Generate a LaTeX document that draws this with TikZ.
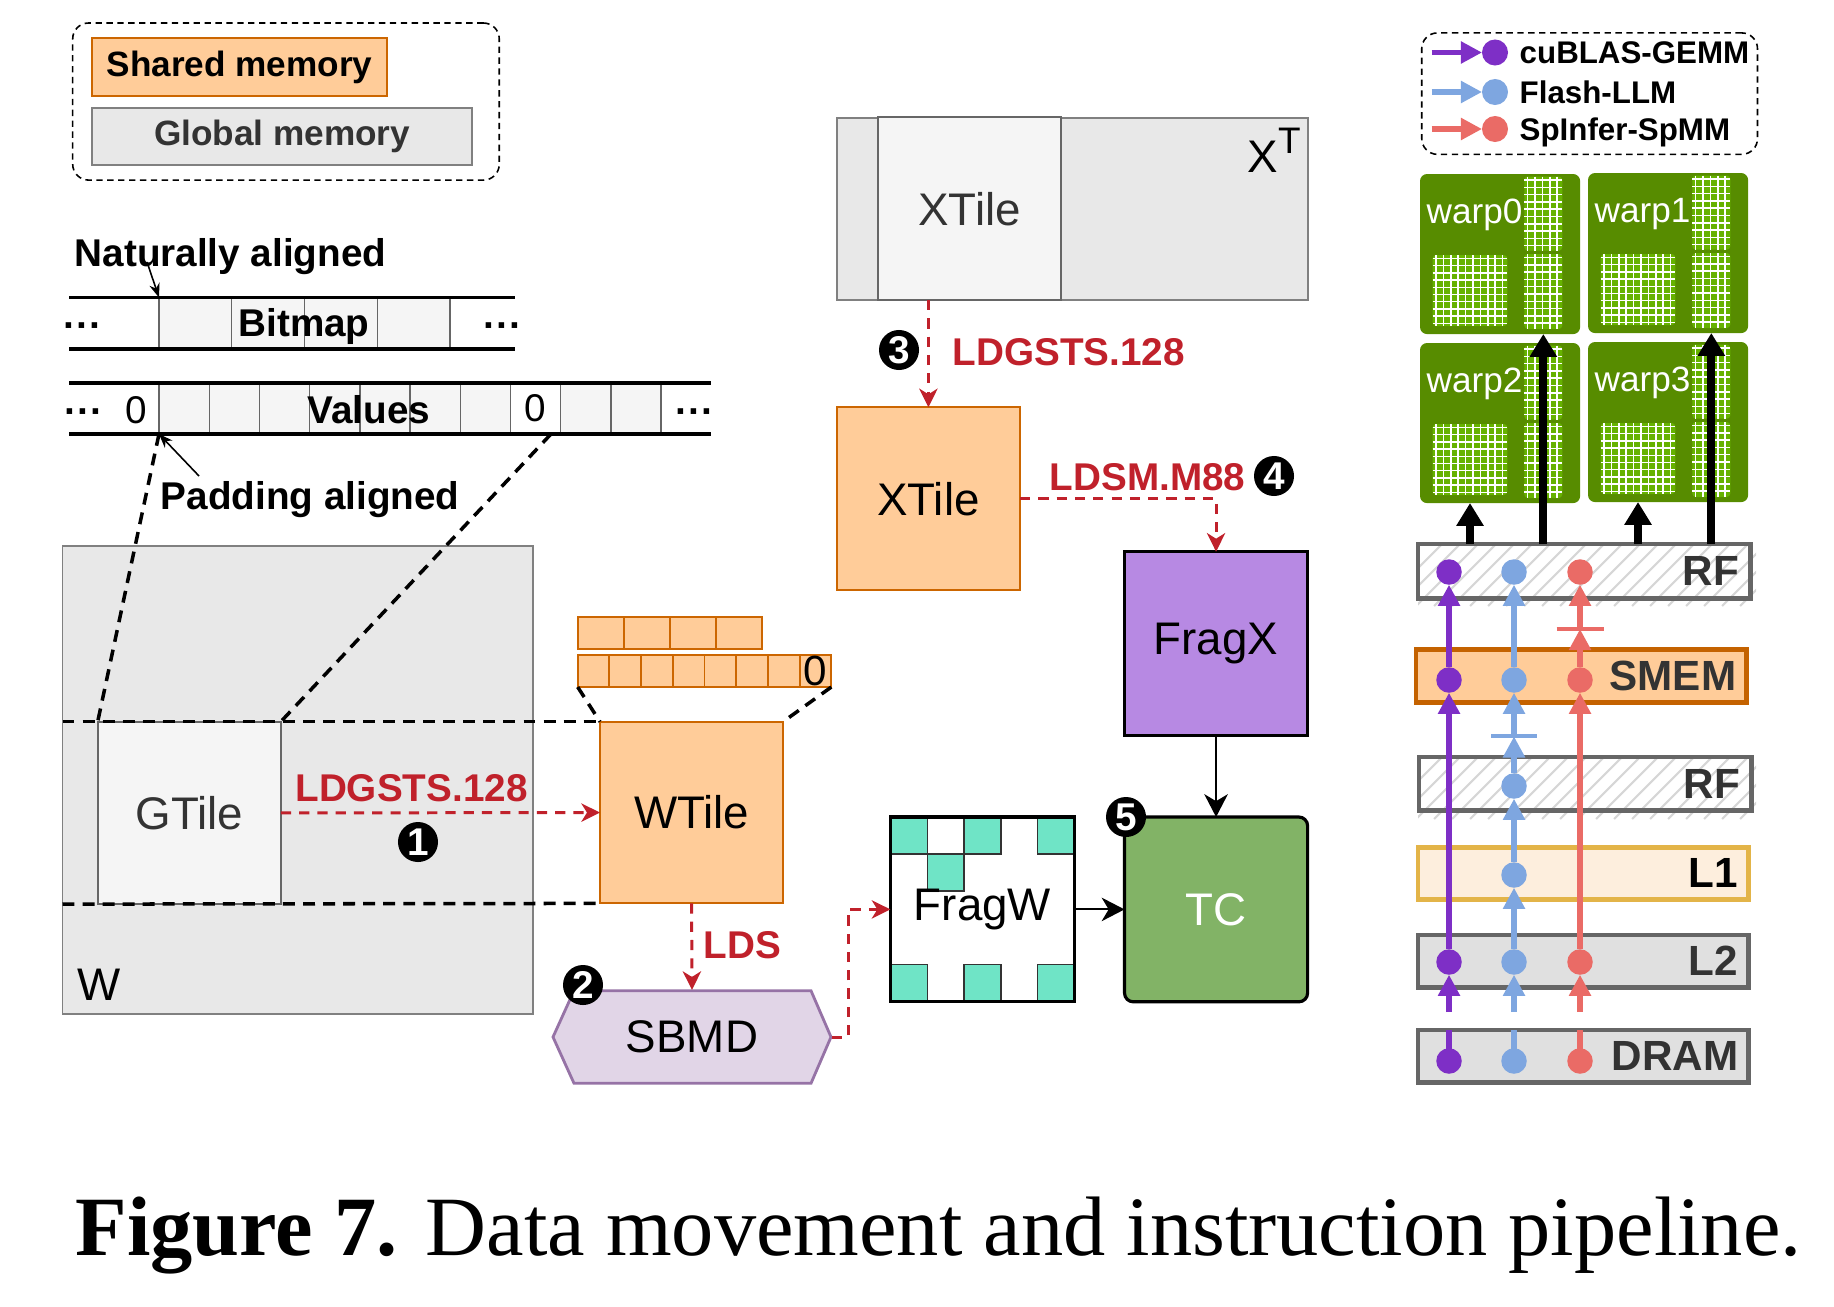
\documentclass[tikz,border=0pt]{standalone}
\usepackage{fontspec}
\setmainfont{Liberation Sans}
\newfontfamily\capfont{Liberation Serif}
\usetikzlibrary{arrows.meta,calc}
\definecolor{shmfill}{HTML}{FFCC99}
\definecolor{shmline}{HTML}{CC6600}
\definecolor{glbfill}{HTML}{E8E8E8}
\definecolor{glbline}{HTML}{808080}
\definecolor{tilefill}{HTML}{F5F5F5}
\definecolor{tileline}{HTML}{666666}
\definecolor{darktext}{HTML}{333333}
\definecolor{instred}{HTML}{C0212B}
\definecolor{hexfill}{HTML}{E1D5E7}
\definecolor{hexline}{HTML}{9673A6}
\definecolor{fragxfill}{HTML}{B789E3}
\definecolor{fragcell}{HTML}{6FE4C6}
\definecolor{tcfill}{HTML}{82B366}
\definecolor{warpdark}{HTML}{578C00}
\definecolor{warplight}{HTML}{66B200}
\definecolor{gemm}{HTML}{7E2FC6}
\definecolor{flash}{HTML}{7EA6E0}
\definecolor{spinf}{HTML}{EA6B66}
\definecolor{hatchgray}{HTML}{D6D6D6}
\definecolor{lvline}{HTML}{666666}
\definecolor{smemline}{HTML}{C46200}
\definecolor{lonefill}{HTML}{FDEEDD}
\definecolor{loneline}{HTML}{E3B448}
\definecolor{ltwofill}{HTML}{E0E0E0}
\newcommand\rowdots{\textperiodcentered\textperiodcentered\textperiodcentered}
\tikzset{
  legframe/.style={draw=black,line width=0.45pt,dash pattern=on 1.8pt off 1.3pt,rounded corners=4.5pt,anchor=north west,inner sep=0pt,outer sep=0pt},
  shmbox/.style={draw=shmline,fill=shmfill,line width=0.55pt,anchor=north west,inner sep=0pt,outer sep=0pt},
  glbbox/.style={draw=glbline,fill=glbfill,line width=0.55pt,anchor=north west,inner sep=0pt,outer sep=0pt},
  tilebox/.style={draw=tileline,fill=tilefill,line width=0.55pt,anchor=north west,inner sep=0pt,outer sep=0pt,text=darktext,font=\fontsize{13}{15}\selectfont},
  legtext/.style={font=\bfseries\fontsize{10}{12}\selectfont},
  keytext/.style={font=\bfseries\fontsize{8.9}{10}\selectfont,anchor=base west,inner sep=0pt},
  headtext/.style={font=\bfseries\fontsize{11}{13}\selectfont,inner sep=0pt},
  tiletext/.style={font=\fontsize{13}{15}\selectfont,inner sep=0pt},
  digit/.style={font=\fontsize{11}{13}\selectfont,inner sep=0pt},
  dotrun/.style={font=\bfseries\fontsize{11}{13}\selectfont,inner sep=0pt},
  cell/.style={draw=tileline,fill=tilefill,line width=0.4pt,anchor=north west,inner sep=0pt,outer sep=0pt},
  ocell/.style={draw=shmline,fill=shmfill,line width=0.55pt,anchor=north west,inner sep=0pt,outer sep=0pt},
  rowline/.style={line width=1pt},
  guide/.style={line width=1pt,dash pattern=on 3.4pt off 2.3pt},
  pointer/.style={line width=0.45pt,-{Stealth[length=4pt,width=3pt]}},
  instr/.style={draw=instred,line width=0.85pt,dash pattern=on 2.9pt off 2.3pt,-{Stealth[length=5.3pt,width=5.2pt,inset=1.6pt]}},
  instlbl/.style={font=\bfseries\fontsize{11}{13}\selectfont,text=instred,inner sep=0pt},
  badge/.style={circle,fill=black,text=white,minimum size=0.40cm,inner sep=0pt,font=\bfseries\fontsize{11}{11}\selectfont},
  hexshape/.style={draw=hexline,fill=hexfill,line width=0.8pt},
  fragbox/.style={draw=black,line width=0.9pt,anchor=north west,inner sep=0pt,outer sep=0pt,font=\fontsize{13}{15}\selectfont},
  fragsq/.style={draw=darktext,fill=fragcell,line width=0.4pt},
  solidarr/.style={line width=0.6pt,-{Stealth[length=6.5pt,width=6.7pt,inset=2pt]}},
  warp/.style={fill=warpdark,rounded corners=2pt,minimum width=1.60cm,minimum height=1.60cm,anchor=north west,inner sep=0pt,outer sep=0pt},
  warptxt/.style={text=white,font=\fontsize{10}{12}\selectfont,inner sep=0pt,anchor=base west},
  gridline/.style={draw=white,line width=0.45pt},
  feed/.style={line width=2.3pt,-{Triangle[length=6.5pt,width=7.4pt]}},
  lvl/.style={anchor=north west,minimum width=3.30cm,minimum height=0.53cm,text width=3.10cm,align=right,inner xsep=0.1cm,inner ysep=0pt,outer sep=0pt,line width=1.4pt,font=\bfseries\fontsize{12}{14}\selectfont,text=darktext},
  lvdot/.style={circle,fill=#1,inner sep=0pt,minimum size=0.255cm,outer sep=0pt},
  flow/.style={line width=1.45pt,-{Triangle[length=6pt,width=6pt]}},
  stub/.style={line width=1.45pt},
  barline/.style={line width=1.1pt}
}
\begin{document}
\begin{tikzpicture}[x=0.01cm,y=-0.01cm]
\path[use as bounding box] (0,0) rectangle (1834,1306);
% memory legend
\node[legframe,minimum width=4.263cm,minimum height=1.57cm] (legL) at (72.7,23) {};
\node[shmbox,legtext,minimum width=2.95cm,minimum height=0.58cm] (shm) at (92,38) {Shared memory};
\node[glbbox,legtext,text=darktext,minimum width=3.80cm,minimum height=0.57cm] (glb) at (92,108) {Global memory};

% bitmap / values rows
\node[headtext,anchor=base west] (natxt) at (74,266) {Naturally aligned};
\foreach \i in {0,...,3}
  \node[cell,minimum width=0.7275cm,minimum height=0.515cm] (bm\i) at (159+\i*72.75,297.5) {};
\draw[rowline] (69,297.5) -- (515,297.5) (69,349) -- (515,349);
\node[headtext,anchor=base] (bmtxt) at (304,336) {Bitmap};
\node[dotrun] (bmdl) at (83,331) {\rowdots};
\node[dotrun] (bmdr) at (503,331) {\rowdots};
\coordinate (natail) at (147,262);
\draw[pointer] (natail) -- (bm0.north west);

\foreach \i in {0,...,9}
  \node[cell,minimum width=0.502cm,minimum height=0.51cm] (vc\i) at (159+\i*50.2,383) {};
\node[cell,digit,fill=white,minimum width=0.502cm,minimum height=0.51cm] (vz) at (vc7.north west) {0};
\draw[rowline] (69,383) -- (711,383) (69,434) -- (711,434);
\node[headtext,anchor=base] (vatxt) at (369,423) {Values};
\node[digit,anchor=base] (vzl) at (136,423) {0};
\node[dotrun] (vdl) at (84,417) {\rowdots};
\node[dotrun] (vdr) at (695,417) {\rowdots};
\node[headtext,anchor=base west] (patxt) at (160,509) {Padding aligned};
\coordinate (patail) at (199,476);
\draw[pointer] (patail) -- (vc0.south west);

% W and its tile
\node[glbbox,minimum width=4.705cm,minimum height=4.683cm] (wmat) at (62.5,545.7) {};
\node[tiletext,anchor=base west] (wlbl) at (77,1000) {W};
\node[tilebox,minimum width=1.83cm,minimum height=1.823cm] (gtile) at (97.7,721.7) {GTile};
\coordinate (vzcut) at (551,434);
\draw[guide] (vc0.south west) -- (gtile.north west);
\draw[guide] (vzcut) -- (gtile.north east);

\foreach \i in {0,...,3}
  \node[ocell,minimum width=0.461cm,minimum height=0.323cm] (sa\i) at (577.7+\i*46.1,616.7) {};
\foreach \i in {0,...,7}
  \node[ocell,minimum width=0.317cm,minimum height=0.32cm] (sb\i) at (577.7+\i*31.7,655) {};
\node[digit,font=\fontsize{12}{12}\selectfont] (sbz) at (sb7.center) {0};
\node[shmbox,tiletext,minimum width=1.83cm,minimum height=1.816cm] (wtile) at (600,721.7) {WTile};
\draw[guide] (sb0.south west) -- (wtile.north west);
\draw[guide] (sb7.south east) -- (wtile.north east);
\draw[guide] (wmat.west |- gtile.north) -- (wtile.north west);
\draw[guide] (wmat.west |- gtile.south) -- (wtile.south west);
\draw[instr] (gtile.east) -- (wtile.west);
\node[instlbl] (lab1) at (411.5,788) {LDGSTS.128};
\node[badge] (b1) at (418,842) {1};

% SBMD and FragW
\draw[hexshape] (553,1037) -- (574,990.7) -- (811,990.7) -- (831,1037) -- (811,1083.3) -- (574,1083.3) -- cycle;
\node[tiletext,minimum width=2.78cm,minimum height=0.926cm] (sbmd) at (692,1037) {SBMD};
\draw[instr] (wtile.south) -- (sbmd.north);
\node[instlbl,anchor=west] (labs) at (703,945) {LDS};
\node[badge] (b2) at (583,985) {2};
\foreach \c/\r in {0/0,2/0,4/0,1/1,0/4,2/4,4/4}
  \draw[fragsq] (890.4+\c*36.8,817+\r*36.94) rectangle ++(36.8,36.94);
\node[fragbox,minimum width=1.841cm,minimum height=1.847cm] (fragw) at (890.4,817) {FragW};
\draw[instr] (sbmd.east) -- ++(16.5,0) |- (fragw.west);

% X side
\node[glbbox,minimum width=4.71cm,minimum height=1.817cm] (xmat) at (836.7,118.3) {};
\node[tilebox,minimum width=1.827cm,minimum height=1.827cm] (xtg) at (878.3,117.3) {XTile};
\node[tiletext,anchor=base west] (xtl) at (1247,172) {X\raisebox{5.3pt}{\fontsize{10.5}{12}\selectfont T}};
\node[shmbox,tiletext,minimum width=1.833cm,minimum height=1.827cm] (xtile) at (836.7,407.3) {XTile};
\draw[instr] (xtile.north |- xtg.south) -- (xtile.north);
\node[badge] (b3) at (899,350) {3};
\node[instlbl,anchor=west] (lab3) at (952,352) {LDGSTS.128};
\node[fragbox,fill=fragxfill,minimum width=1.83cm,minimum height=1.833cm] (fragx) at (1124.5,551.7) {FragX};
\draw[instr] (xtile.east) -| (fragx.north);
\node[instlbl,anchor=west] (lab4) at (1049,477) {LDSM.M88};
\node[badge] (b4) at (1274,476) {4};
\node[fragbox,fill=tcfill,rounded corners=2.5pt,text=white,minimum width=1.83cm,minimum height=1.847cm] (tc) at (1124.5,817) {TC};
\draw[solidarr] (fragx.south) -- (tc.north);
\draw[solidarr] (fragw.east) -- (tc.west);
\node[badge] (b5) at (1126,817) {5};

% kernel legend
\node[legframe,minimum width=3.356cm,minimum height=1.214cm] (legR) at (1421.7,32.9) {};
\foreach \c/\t/\yy in {gemm/cuBLAS-GEMM/52.5,flash/Flash-LLM/92,spinf/SpInfer-SpMM/129}{
  \node[lvdot=\c,minimum size=0.26cm] (key\c) at (1495,\yy) {};
  \coordinate (keytail\c) at (1431.7,\yy);
  \draw[flow,\c] (keytail\c) -- (key\c.west);
  \node[keytext] (keytxt\c) at (1519,\yy+11) {\t};
}

% warps
\foreach \wx/\wy/\wn in {1420/174/0,1588/173/1,1420/343/2,1588/342/3}{
  \node[warp] (warp\wn) at (\wx,\wy) {};
  \node[warptxt] (wtxt\wn) at (\wx+6,\wy+49) {warp\wn};
  \fill[warplight,rounded corners=1pt] (\wx+12.7,\wy+81) rectangle (\wx+87.3,\wy+152);
  \fill[warplight,rounded corners=1pt] (\wx+104.3,\wy+2.5) rectangle (\wx+142.3,\wy+76.7);
  \fill[warplight,rounded corners=1pt] (\wx+104.3,\wy+80) rectangle (\wx+142.3,\wy+155);
  \foreach \k in {0,...,9}{
    \draw[gridline] (\wx+16+\k*7.4,\wy+81) -- ++(0,71);
    \draw[gridline] (\wx+12.7,\wy+84.5+\k*7.2) -- ++(74.6,0);
    \draw[gridline] (\wx+104.3,\wy+6+\k*7.3) -- ++(38,0);
    \draw[gridline] (\wx+104.3,\wy+83.5+\k*7.3) -- ++(38,0);
  }
  \foreach \k in {0,...,4}{
    \draw[gridline] (\wx+107.5+\k*7.4,\wy+2.5) -- ++(0,74.2);
    \draw[gridline] (\wx+107.5+\k*7.4,\wy+80) -- ++(0,75);
  }
  \coordinate (pb\wn) at (\wx+50,\wy+160);
  \coordinate (ps\wn) at (\wx+123.3,\wy+160);
}

% memory levels
\foreach \yt in {544,757}{
  \begin{scope}
    \clip (1418,\yt) rectangle (1756,\yt+62);
    \foreach \h in {0,...,21}
      \draw[hatchgray,line width=0.6pt] (1380+\h*18,\yt+62) -- ++(62,-62);
  \end{scope}
}
\node[lvl,draw=lvline,minimum width=3.32cm,minimum height=0.54cm] (lvrf1) at (1418,544) {RF};
\node[lvl,draw=smemline,fill=shmfill,minimum height=0.525cm] (lvsm) at (1416,649.5) {SMEM};
\node[lvl,draw=lvline,minimum width=3.32cm,minimum height=0.535cm] (lvrf2) at (1419,757) {RF};
\node[lvl,draw=loneline,fill=lonefill,text=black,minimum height=0.52cm] (lvl1) at (1418,847.4) {L1};
\node[lvl,draw=lvline,fill=ltwofill,minimum height=0.52cm] (lvl2) at (1418,935) {L2};
\node[lvl,draw=lvline,fill=ltwofill,minimum height=0.52cm] (lvdr) at (1418,1030) {DRAM};

\foreach \lv/\yy in {rf1/572,sm/680,l2/962,dr/1061}
  \node[lvdot=gemm] (\lv-g) at (1449,\yy) {};
\foreach \lv/\yy in {rf1/572,sm/680,rf2/786,l1/875,l2/962,dr/1061}
  \node[lvdot=flash] (\lv-f) at (1514,\yy) {};
\foreach \lv/\yy in {rf1/572,sm/680,l2/962,dr/1061}
  \node[lvdot=spinf] (\lv-s) at (1580,\yy) {};

\foreach \p/\c in {g/gemm,f/flash,s/spinf}{
  \draw[stub,\c] (dr-\p.center) -- (dr-\p |- lvdr.north);
  \draw[flow,\c] ($(dr-\p |- lvdr.north)+(0,-18)$) -- (l2-\p.south);
}
\draw[flow,gemm] (l2-g.north) -- (sm-g.south);
\draw[flow,gemm] (sm-g.north) -- (rf1-g.south);
\draw[flow,flash] (l2-f.north) -- (l1-f.south);
\draw[flow,flash] (l1-f.north) -- (rf2-f.south);
\coordinate (barf) at (1514,736.4);
\draw[flow,flash] (rf2-f.north) -- (barf);
\draw[barline,flash] ($(barf)+(-23,0)$) -- ($(barf)+(23,0)$);
\draw[flow,flash] (barf) -- (sm-f.south);
\draw[flow,flash] (sm-f.north) -- (rf1-f.south);
\draw[flow,spinf] (l2-s.north) -- (sm-s.south);
\coordinate (bars) at (1580,629);
\draw[flow,spinf] (sm-s.north) -- (bars);
\draw[barline,spinf] ($(bars)+(-23.5,0)$) -- ($(bars)+(23.5,0)$);
\draw[flow,spinf] (bars) -- (rf1-s.south);

% register file feeds the warps
\draw[feed] (lvrf1.north -| pb2) -- (pb2);
\draw[feed] (lvrf1.north -| ps2) -- (ps0);
\draw[feed] (lvrf1.north -| pb3) -- (pb3);
\draw[feed] (lvrf1.north -| ps3) -- (ps1);

\node[anchor=base west,inner sep=0pt,font=\capfont\fontsize{24}{28}\selectfont] (cap) at (75,1255) {\textbf{Figure 7.} Data movement and instruction pipeline.};
\end{tikzpicture}
\end{document}
